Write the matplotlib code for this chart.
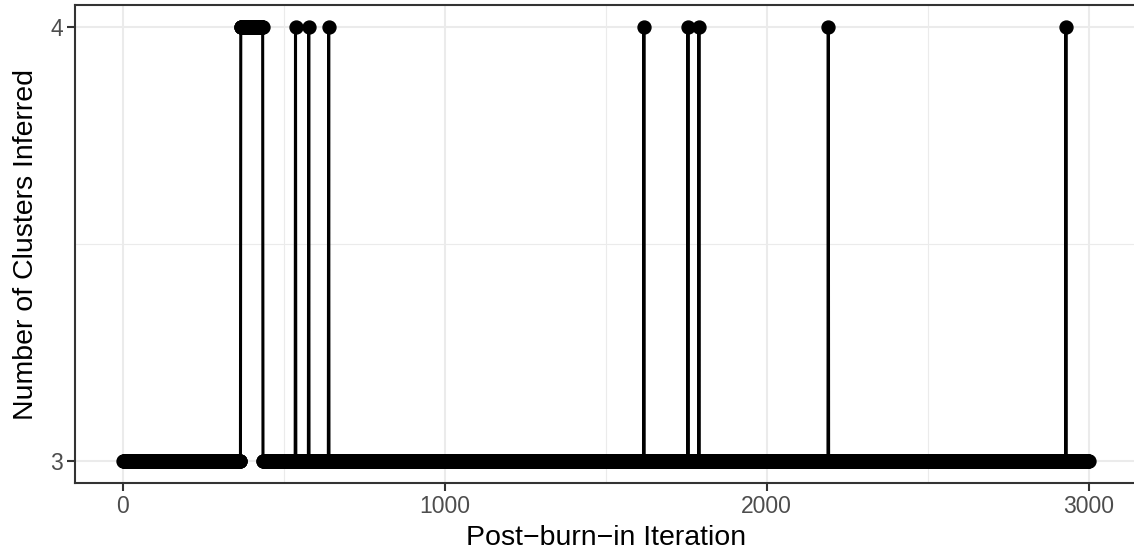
import numpy as np
import matplotlib.pyplot as plt

# iterations where the sampler visited 4 clusters (all others are 3)
block_start, block_end = 366, 434
spike_iters = [536, 577, 639, 1618, 1755, 1789, 2191, 2929]
n_iter = 3000

iteration = np.arange(1, n_iter + 1)
clusters = np.full(n_iter, 3)
clusters[(iteration >= block_start) & (iteration <= block_end)] = 4
clusters[np.isin(iteration, spike_iters)] = 4

plt.rcParams['font.family'] = ['Liberation Sans', 'DejaVu Sans']

fig = plt.figure(figsize=(11.34, 5.52), dpi=100)
ax = fig.add_axes([75 / 1134, (552 - 483) / 552, (1137 - 75) / 1134, 478 / 552])

ax.plot(iteration, clusters, color='black', lw=2.2, zorder=3)
ax.plot(iteration, clusters, 'o', color='black', ms=9.3, zorder=4)

ax.set_xlim(1 - 0.05 * (n_iter - 1), n_iter + 0.05 * (n_iter - 1))
ax.set_ylim(2.95, 4.05)
ax.set_xticks([0, 1000, 2000, 3000])
ax.set_xticks([500, 1500, 2500], minor=True)
ax.set_yticks([3, 4])
ax.set_yticks([3.5], minor=True)

ax.grid(which='major', color='#EBEBEB', lw=1.5, zorder=0)
ax.grid(which='minor', color='#EBEBEB', lw=0.8, zorder=0)
ax.set_axisbelow(True)
for s in ax.spines.values():
    s.set_color('#333333')
    s.set_linewidth(1.5)

ax.tick_params(which='major', length=5.5, width=1.5, color='#333333',
               labelsize=16.5, labelcolor='#4D4D4D', pad=3)
ax.tick_params(which='minor', length=0)

ax.set_xlabel('Post\u2212burn\u2212in Iteration', fontsize=20.5, labelpad=5)
ax.set_ylabel('Number of Clusters Inferred', fontsize=20.5, labelpad=8)

fig.savefig('out.png', dpi=100)
